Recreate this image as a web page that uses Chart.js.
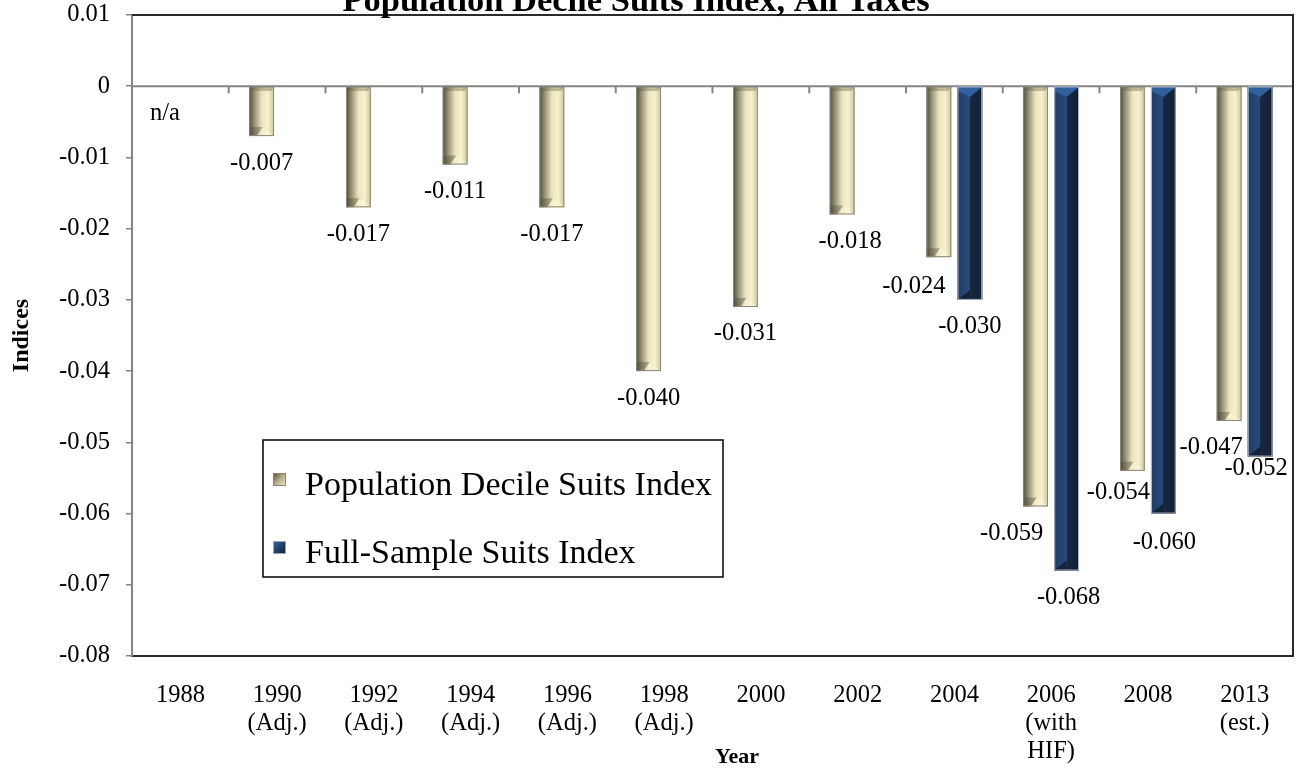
<!DOCTYPE html>
<html>
<head>
<meta charset="utf-8">
<script src="https://cdn.jsdelivr.net/npm/chart.js@4.4.1/dist/chart.umd.min.js"></script>
<style>
  html, body { margin: 0; padding: 0; background: #fff; }
  canvas { display: block; }
</style>
</head>
<body>
<canvas id="suitsChart" width="1305" height="774"></canvas>
<script>
const SERIF = '"Liberation Serif", "Times New Roman", Times, serif';

const years = [
  ['1988'], ['1990', '(Adj.)'], ['1992', '(Adj.)'], ['1994', '(Adj.)'], ['1996', '(Adj.)'],
  ['1998', '(Adj.)'], ['2000'], ['2002'], ['2004'], ['2006', '(with', 'HIF)'], ['2008'], ['2013', '(est.)']
];
const populationDecile = [null, -0.007, -0.017, -0.011, -0.017, -0.040, -0.031, -0.018, -0.024, -0.059, -0.054, -0.047];
const fullSample = [null, null, null, null, null, null, null, null, -0.030, -0.068, -0.060, -0.052];
const seriesNames = ['Population Decile Suits Index', 'Full-Sample Suits Index'];
const yMin = -0.08;
const yMax = 0.01;
const yStep = 0.01;

// hand placed label shifts [dx, dy] like in the original sheet
const labelNudge = [
  { 7: [8, 0], 8: [-25, 2], 9: [-24, 0], 10: [-14, -5], 11: [-18, 0] },
  { 9: [2, 0], 10: [1, 2], 11: [-4, -15] }
];

function paintPopBar(ctx, l, r, t, b) {
  const w = r - l;
  const g = ctx.createLinearGradient(l, 0, r, 0);
  g.addColorStop(0, '#4c4938');
  g.addColorStop(0.18, '#8c886f');
  g.addColorStop(0.5, '#ebe4bc');
  g.addColorStop(0.75, '#f7f1cf');
  g.addColorStop(1, '#cdc69e');
  ctx.fillStyle = g;
  ctx.fillRect(l, t, w, b - t);
  const h = Math.min(9, (b - t) / 3);
  // top bevel
  ctx.fillStyle = 'rgba(95,90,70,0.35)';
  ctx.beginPath();
  ctx.moveTo(l, t); ctx.lineTo(r, t); ctx.lineTo(r - 3, t + 4); ctx.lineTo(l + 3, t + 4);
  ctx.closePath(); ctx.fill();
  // bottom bevel
  ctx.fillStyle = 'rgba(70,66,50,0.35)';
  ctx.beginPath();
  ctx.moveTo(l, b - h); ctx.lineTo(l + w * 0.55, b - h); ctx.lineTo(l + w * 0.3, b); ctx.lineTo(l, b);
  ctx.closePath(); ctx.fill();
  ctx.fillStyle = 'rgba(255,250,225,0.45)';
  ctx.beginPath();
  ctx.moveTo(l + w * 0.3, b); ctx.lineTo(l + w * 0.55, b - h); ctx.lineTo(r, b);
  ctx.closePath(); ctx.fill();
  ctx.strokeStyle = '#8a8774';
  ctx.lineWidth = 1;
  ctx.strokeRect(l + 0.5, t, w - 1, b - t - 0.5);
}

function paintFullBar(ctx, l, r, t, b) {
  const w = r - l;
  const g = ctx.createLinearGradient(l, 0, r, 0);
  g.addColorStop(0, '#213d66');
  g.addColorStop(0.5, '#28497a');
  g.addColorStop(0.5, '#18283f');
  g.addColorStop(1, '#122033');
  ctx.fillStyle = g;
  ctx.fillRect(l, t, w, b - t);
  const h = Math.min(10, (b - t) / 3);
  ctx.fillStyle = '#30609e';
  ctx.beginPath();
  ctx.moveTo(l, t); ctx.lineTo(r, t); ctx.lineTo(l + w * 0.5, t + h); ctx.lineTo(l, t + h * 0.4);
  ctx.closePath(); ctx.fill();
  ctx.fillStyle = '#142238';
  ctx.beginPath();
  ctx.moveTo(l, b); ctx.lineTo(l + w * 0.5, b - h); ctx.lineTo(l + w * 0.5, b);
  ctx.closePath(); ctx.fill();
  ctx.strokeStyle = 'rgba(190,198,212,0.9)';
  ctx.lineWidth = 1;
  ctx.strokeRect(l + 0.5, t, w - 1, b - t - 0.5);
}

const bevelBars = {
  id: 'bevelBars',
  afterDatasetDraw(chart, args) {
    const ctx = chart.ctx;
    const values = chart.data.datasets[args.index].data;
    const paint = args.index === 0 ? paintPopBar : paintFullBar;
    ctx.save();
    args.meta.data.forEach((bar, i) => {
      if (values[i] === null) return;
      const p = bar.getProps(['x', 'y', 'base', 'width'], true);
      paint(ctx, p.x - p.width / 2, p.x + p.width / 2, Math.min(p.y, p.base), Math.max(p.y, p.base));
    });
    ctx.restore();
  }
};

const zeroLine = {
  id: 'zeroLine',
  beforeDatasetsDraw(chart) {
    const { ctx, chartArea, scales: { x, y } } = chart;
    const y0 = y.getPixelForValue(0);
    ctx.save();
    ctx.strokeStyle = '#858585';
    ctx.lineWidth = 2;
    ctx.beginPath();
    ctx.moveTo(chartArea.left, y0);
    ctx.lineTo(chartArea.right, y0);
    for (let i = 1; i < years.length; i++) {
      const xb = (x.getPixelForValue(i - 1) + x.getPixelForValue(i)) / 2;
      ctx.moveTo(xb, y0);
      ctx.lineTo(xb, y0 + 7);
    }
    ctx.stroke();
    ctx.restore();
  }
};

const valueLabels = {
  id: 'valueLabels',
  afterDatasetsDraw(chart) {
    const { ctx, scales: { y } } = chart;
    ctx.save();
    ctx.font = '24.5px ' + SERIF;
    ctx.fillStyle = '#000';
    ctx.textAlign = 'center';
    ctx.textBaseline = 'middle';
    chart.data.datasets.forEach((ds, d) => {
      const meta = chart.getDatasetMeta(d);
      ds.data.forEach((v, i) => {
        const bar = meta.data[i];
        const [dx, dy] = labelNudge[d][i] || [0, 0];
        if (v === null) {
          if (d === 0) ctx.fillText('n/a', bar.x + dx, y.getPixelForValue(0) + 27 + dy);
          return;
        }
        ctx.fillText(v.toFixed(3), bar.x + dx, y.getPixelForValue(v) + 27 + dy);
      });
    });
    ctx.restore();
  }
};

const frameAndText = {
  id: 'frameAndText',
  afterDraw(chart) {
    const { ctx, chartArea } = chart;
    ctx.save();
    // top and right frame
    ctx.strokeStyle = '#2b2b2b';
    ctx.lineWidth = 2;
    ctx.beginPath();
    ctx.moveTo(chartArea.left, chartArea.top);
    ctx.lineTo(chartArea.right, chartArea.top);
    ctx.lineTo(chartArea.right, chartArea.bottom);
    ctx.stroke();

    // title, partly cut off at the top like the source
    ctx.fillStyle = '#000';
    ctx.textAlign = 'center';
    ctx.textBaseline = 'alphabetic';
    ctx.font = 'bold 34.5px ' + SERIF;
    ctx.fillText('Population Decile Suits Index, All Taxes', 636, 10.5);

    ctx.font = 'bold 22px ' + SERIF;
    ctx.textBaseline = 'middle';
    ctx.fillText('Year', 737, 757);

    // legend
    const lx = 263, ly = 440, lw = 460, lh = 137;
    ctx.fillStyle = '#fff';
    ctx.fillRect(lx, ly, lw, lh);
    ctx.strokeStyle = '#000';
    ctx.lineWidth = 1.5;
    ctx.strokeRect(lx, ly, lw, lh);
    const rows = [495, 563];
    ctx.font = '34px ' + SERIF;
    ctx.textAlign = 'left';
    ctx.textBaseline = 'alphabetic';
    rows.forEach((base, k) => {
      const mx = lx + 10, my = base - 22, ms = 13;
      const g = ctx.createLinearGradient(mx, my, mx + ms, my + ms);
      if (k === 0) {
        g.addColorStop(0, '#4c4938'); g.addColorStop(0.5, '#b3ad8a'); g.addColorStop(1, '#f4eec9');
      } else {
        g.addColorStop(0, '#3566a6'); g.addColorStop(0.5, '#23416d'); g.addColorStop(1, '#131f33');
      }
      ctx.fillStyle = g;
      ctx.fillRect(mx, my, ms, ms);
      ctx.strokeStyle = k === 0 ? '#8a8774' : '#9aa4b4';
      ctx.lineWidth = 1;
      ctx.strokeRect(mx + 0.5, my + 0.5, ms - 1, ms - 1);
      ctx.fillStyle = '#000';
      ctx.fillText(chart.data.datasets[k].label, lx + 42, base);
    });
    ctx.restore();
  }
};

const ctx = document.getElementById('suitsChart').getContext('2d');

new Chart(ctx, {
  type: 'bar',
  data: {
    labels: years,
    datasets: [
      {
        label: seriesNames[0],
        data: populationDecile,
        backgroundColor: '#d9d2aa',
        borderWidth: 0
      },
      {
        label: seriesNames[1],
        data: fullSample,
        backgroundColor: '#1f3a60',
        borderWidth: 0
      }
    ]
  },
  options: {
    responsive: false,
    animation: false,
    devicePixelRatio: 1,
    events: [],
    categoryPercentage: 0.64,
    barPercentage: 0.8,
    layout: { padding: { top: 15, right: 12, bottom: 0, left: 0 } },
    plugins: {
      legend: { display: false },
      tooltip: { enabled: false },
      title: { display: false }
    },
    scales: {
      x: {
        afterFit(scale) {
          scale.height = 118;
          scale.paddingLeft = 0;
          scale.paddingRight = 0;
        },
        grid: { display: false, drawTicks: false },
        border: { color: '#2b2b2b', width: 2 },
        ticks: {
          color: '#000',
          padding: 25,
          maxRotation: 0,
          autoSkip: false,
          font: { family: SERIF, size: 24.5, lineHeight: 1.15 }
        }
      },
      y: {
        min: yMin,
        max: yMax,
        afterFit(scale) {
          scale.width = 132;
          scale.paddingTop = 0;
          scale.paddingBottom = 0;
        },
        border: { color: '#858585', width: 2 },
        grid: { drawOnChartArea: false, color: '#858585', lineWidth: 1.5, tickLength: 6 },
        ticks: {
          stepSize: yStep,
          padding: 16,
          color: '#000',
          font: { family: SERIF, size: 24.5 },
          callback: v => String(Number(v.toFixed(2)))
        },
        title: {
          display: true,
          text: 'Indices',
          color: '#000',
          font: { family: SERIF, size: 24, weight: 'bold' },
          padding: { top: 7 }
        }
      }
    }
  },
  plugins: [zeroLine, bevelBars, valueLabels, frameAndText]
});
</script>
</body>
</html>
